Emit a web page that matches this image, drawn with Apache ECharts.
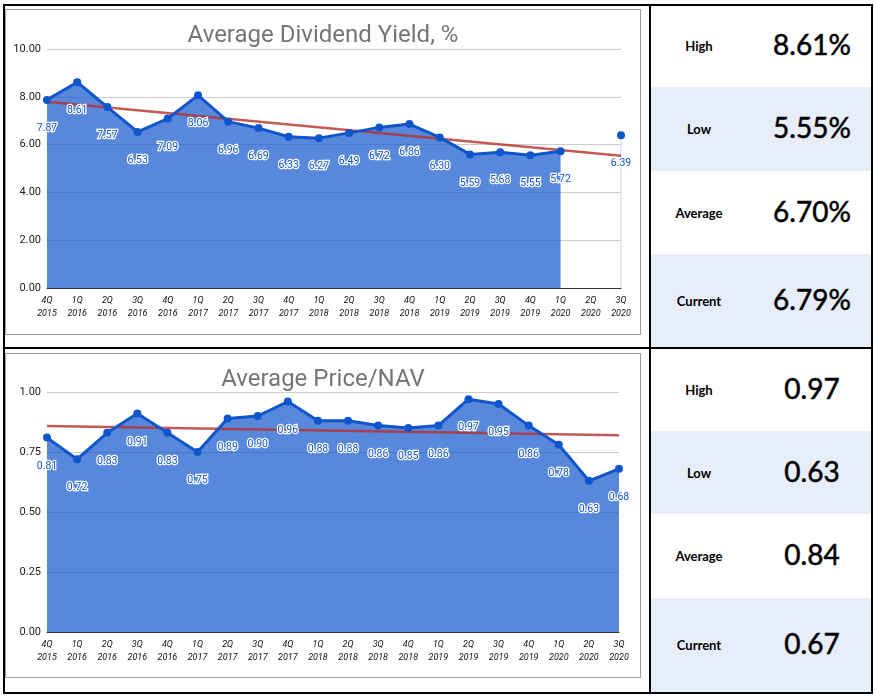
<!DOCTYPE html>
<html>
<head>
<meta charset="utf-8">
<script src="https://cdn.jsdelivr.net/npm/echarts@6/dist/echarts.min.js"></script>
<style>
  body { margin: 0; background: #fff; width: 876px; height: 699px; position: relative; overflow: hidden; }
  .abs { position: absolute; }
  .frame { position: absolute; border: 1.5px solid #9e9e9e; box-sizing: border-box; }
  .cell { position: absolute; left: 650px; width: 222px; }
  .cell.alt { background: #e7eefa; }
  .lbl { position: absolute; left: 0; width: 98px; text-align: center; font: bold 13px Lato, sans-serif; color: #000; }
  .val { position: absolute; left: 112px; width: 100px; text-align: center; font: 28px Lato, sans-serif; color: #000; -webkit-text-stroke: 0.5px #000; }
  .hl { position: absolute; background: #000; }
</style>
</head>
<body>
<div id="cells"></div>
<div class="frame" style="left:5px;top:9px;width:636px;height:326px"></div>
<div class="frame" style="left:5px;top:353px;width:636px;height:325px"></div>
<div id="c1" class="abs" style="left:5px;top:9px;width:636px;height:326px"></div>
<div id="c2" class="abs" style="left:5px;top:353px;width:636px;height:325px"></div>
<!-- table rules -->
<div class="hl" style="left:3px;top:4px;width:870px;height:2px"></div>
<div class="hl" style="left:3px;top:347px;width:870px;height:2px"></div>
<div class="hl" style="left:3px;top:692px;width:870px;height:2px"></div>
<div class="hl" style="left:3px;top:4px;width:2px;height:690px"></div>
<div class="hl" style="left:649px;top:4px;width:2px;height:690px"></div>
<div class="hl" style="left:871px;top:4px;width:2px;height:690px"></div>
<script>
const quarters = ['4Q\n2015','1Q\n2016','2Q\n2016','3Q\n2016','4Q\n2016','1Q\n2017','2Q\n2017','3Q\n2017','4Q\n2017',
  '1Q\n2018','2Q\n2018','3Q\n2018','4Q\n2018','1Q\n2019','2Q\n2019','3Q\n2019','4Q\n2019','1Q\n2020','2Q\n2020','3Q\n2020'];
const yieldVals = [7.87, 8.61, 7.57, 6.53, 7.09, 8.06, 6.96, 6.69, 6.33, 6.27, 6.49, 6.72, 6.86, 6.30, 5.59, 5.68, 5.55, 5.72, null, 6.39];
const navVals = [0.81, 0.72, 0.83, 0.91, 0.83, 0.75, 0.89, 0.90, 0.96, 0.88, 0.88, 0.86, 0.85, 0.86, 0.97, 0.95, 0.86, 0.78, 0.63, 0.68];
// trend line end points (first and last quarter)
const yieldTrend = [7.79, 5.53];
const navTrend = [0.858, 0.82];
const statLabels = ['High', 'Low', 'Average', 'Current'];
const yieldStats = ['8.61%', '5.55%', '6.70%', '6.79%'];
const navStats = ['0.97', '0.63', '0.84', '0.67'];

// stat cells
const rowsTop = [[4, 87], [87, 171], [171, 254], [254, 347]];
const rowsBot = [[348, 431], [431, 514], [514, 598], [598, 692]];
let html = '';
function addCells(rows, vals) {
  rows.forEach((r, i) => {
    const h = r[1] - r[0];
    html += '<div class="cell' + (i % 2 ? ' alt' : '') + '" style="top:' + r[0] + 'px;height:' + h + 'px">' +
      '<div class="lbl" style="top:' + (h / 2 - 8) + 'px">' + statLabels[i] + '</div>' +
      '<div class="val" style="top:' + (h / 2 - 19) + 'px">' + vals[i] + '</div></div>';
  });
}
addCells(rowsTop, yieldStats);
addCells(rowsBot, navStats);
document.getElementById('cells').innerHTML = html;

function spread(ends, n) {
  const d = new Array(n).fill(null);
  d[0] = ends[0]; d[n - 1] = ends[1];
  return d;
}

function makeChart(el, title, vals, trend, yMax, yInt, grid) {
  const chart = echarts.init(document.getElementById(el));
  // a point sitting right after a gap gets a thin drop line
  const spike = vals.map((v, i) => (i > 0 && vals[i - 1] == null) ? v : null);
  chart.setOption({
    animation: false,
    title: {
      text: title, left: 'center', top: 10,
      textStyle: { fontFamily: 'Roboto', fontSize: 24, fontWeight: 'normal', color: '#757575' }
    },
    grid: grid,
    xAxis: {
      type: 'category', data: quarters, boundaryGap: false,
      axisLine: { lineStyle: { color: '#333', width: 1 } },
      axisTick: { show: false },
      axisLabel: { interval: 0, fontFamily: 'Roboto', fontStyle: 'italic', fontSize: 9, lineHeight: 13, color: '#111', margin: 6 }
    },
    yAxis: {
      type: 'value', min: 0, max: yMax, interval: yInt,
      axisLine: { show: false }, axisTick: { show: false },
      axisLabel: { fontFamily: 'Roboto', fontSize: 11, color: '#222', margin: 6, formatter: v => v.toFixed(2) },
      splitLine: { lineStyle: { color: '#cccccc' } }
    },
    series: [
      {
        type: 'line', data: vals, symbol: 'none', z: 1,
        lineStyle: { width: 0 },
        areaStyle: { color: '#1155cc', opacity: 0.7 }
      },
      {
        type: 'bar', data: spike, barWidth: 1, z: 1, silent: true,
        itemStyle: { color: '#c9d8f4' }
      },
      {
        type: 'line', data: spread(trend, vals.length), connectNulls: true, symbol: 'none', z: 2,
        lineStyle: { color: '#b7312b', width: 2.5, opacity: 0.8 }
      },
      {
        type: 'line', data: vals, z: 3, symbol: 'circle', symbolSize: 8, showAllSymbol: true,
        itemStyle: { color: '#1155cc' },
        lineStyle: { color: '#1155cc', width: 3 },
        label: {
          show: true, position: 'bottom', distance: 19,
          fontFamily: 'Roboto', fontSize: 10.5, color: '#1155cc',
          textBorderColor: '#fff', textBorderWidth: 2.5,
          formatter: p => p.value.toFixed(2)
        }
      }
    ]
  });
}

makeChart('c1', 'Average Dividend Yield, %', yieldVals, yieldTrend, 10, 2,
  { left: 42, right: 20, top: 40, bottom: 47 });
makeChart('c2', 'Average Price/NAV', navVals, navTrend, 1, 0.25,
  { left: 42, right: 22, top: 39, bottom: 46 });
</script>
</body>
</html>
